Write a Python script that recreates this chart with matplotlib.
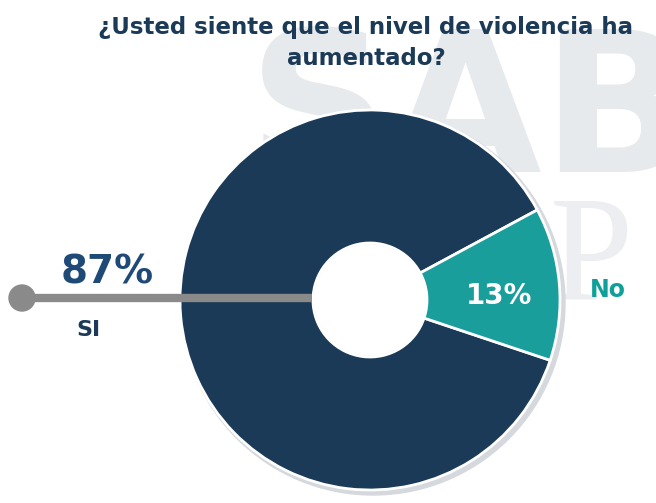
import matplotlib.pyplot as plt

# datos
labels = ['SI', 'No']
values = [87, 13]
pct_text = ['87%', '13%']
colors = ['#1b3a57', '#1a9e9c']
title = '¿Usted siente que el nivel de violencia ha\naumentado?'

W, H = 656, 503
fig = plt.figure(figsize=(W / 100, H / 100), dpi=100)
ax = fig.add_axes([0, 0, 1, 1])

# marca de agua
ax.text(248, H - 172, 'SAB', fontsize=142, fontweight='heavy', color='#e7eaed',
        family='DejaVu Sans', ha='left', va='baseline', zorder=0)
ax.text(255, H - 300, 'INC.P', fontsize=108, color='#eceef1',
        family='Liberation Serif', ha='left', va='baseline', zorder=0)

cx, cy = 370, H - 300
r_out, r_in = 190, 57

# sombra del anillo
ax.add_patch(plt.Circle((cx + 3, cy - 3), r_out + 2, color='#d5d8dc', zorder=1))
ax.add_patch(plt.Circle((cx, cy), r_in, facecolor='white', edgecolor='#d0d3d6',
                        lw=1.5, zorder=1.5))

wedges, _ = ax.pie(values, colors=colors, startangle=28.3, counterclock=True,
                   center=(cx, cy), radius=r_out, frame=True,
                   wedgeprops=dict(width=r_out - r_in, edgecolor='white', linewidth=2))
for w in wedges:
    w.set_zorder(2)
ax.set_xlim(0, W)
ax.set_ylim(0, H)
ax.set_aspect('equal')
ax.axis('off')

# linea del SI
ax.plot([22, 312], [H - 298, H - 298], color='#8a8a8a', lw=6, solid_capstyle='butt', zorder=3)
ax.add_patch(plt.Circle((22, H - 298), 13, color='#8a8a8a', zorder=4))

ax.text(107, H - 272, pct_text[0], fontsize=28, fontweight='bold', color='#1f4a78',
        ha='center', va='center', zorder=5)
ax.text(88, H - 330, labels[0], fontsize=16, fontweight='bold', color='#1b3a57',
        ha='center', va='center', zorder=5)

ax.text(499, H - 296, pct_text[1], fontsize=20, fontweight='bold', color='white',
        ha='center', va='center', zorder=5)
ax.text(608, H - 290, labels[1], fontsize=17, fontweight='bold', color='#10a09a',
        ha='center', va='center', zorder=5)

ax.text(366, H - 43, title, fontsize=16.5, fontweight='bold', color='#1b3a57',
        ha='center', va='center', linespacing=1.45, zorder=5)

fig.savefig('out.png', dpi=100)
